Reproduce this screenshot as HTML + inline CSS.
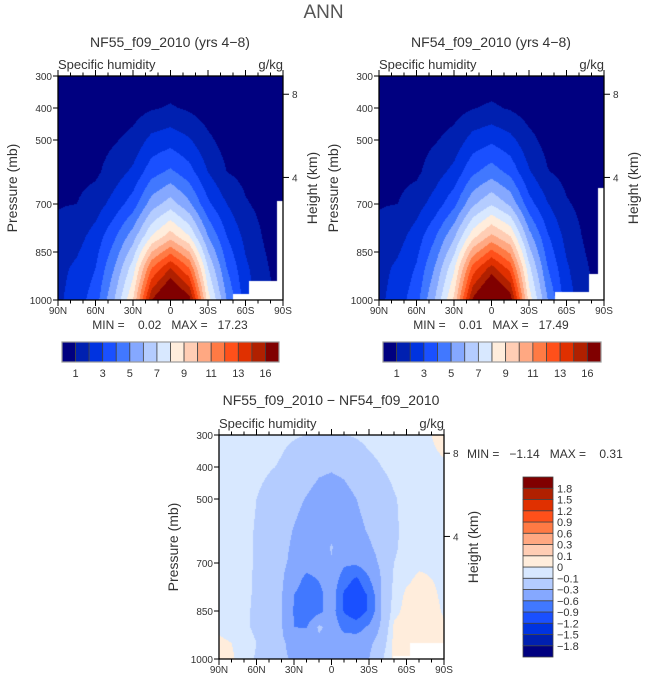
<!DOCTYPE html>
<html><head><meta charset="utf-8">
<style>
body{margin:0;background:#fff;width:647px;height:684px;overflow:hidden;position:relative;font-family:"Liberation Sans",sans-serif;color:#333}
.t{position:absolute;white-space:nowrap}
canvas{position:absolute}
svg{position:absolute;left:0;top:0}
svg text{white-space:pre}
</style></head><body>
<div class="t" style="left:0;width:647px;text-align:center;top:2px;font-size:19px;color:#555">ANN</div>
<svg id="ov" width="647" height="684"></svg>
<script>
const lats=[90,75,60,45,30,15,0,-15,-30,-45,-60,-75,-90];
const pres=[300,400,500,600,700,800,900,1000];
const q55=[
[0.1,0.1,0.15,0.2,0.25,0.35,0.4,0.35,0.25,0.2,0.15,0.1,0.05],
[0.3,0.3,0.35,0.45,0.6,0.9,1.1,0.85,0.5,0.4,0.3,0.2,0.1],
[0.45,0.45,0.6,0.9,1.3,2.3,2.6,2.1,1.2,0.6,0.45,0.3,0.2],
[0.6,0.7,0.8,1.5,2.2,3.6,4.2,3.4,2.0,1.0,0.7,0.4,0.2],
[0.95,1.0,1.5,2.4,3.5,5.5,6.5,5.2,3.2,2.0,1.1,0.7,0.3],
[1.2,1.6,2.4,3.8,5.5,8.0,9.5,8.0,5.0,3.0,1.7,0.9,0.3],
[1.7,2.2,3.0,5.0,7.5,12.0,14.0,12.0,7.0,4.0,2.2,1.2,0.4],
[1.8,2.5,3.5,6.0,9.0,15.0,17.2,15.5,8.5,5.0,2.5,1.5,0.5]];
const q54=[
[0.1,0.1,0.15,0.2,0.25,0.38,0.42,0.37,0.25,0.2,0.15,0.1,0.05],
[0.3,0.3,0.35,0.45,0.62,0.95,1.15,0.9,0.52,0.4,0.3,0.2,0.1],
[0.45,0.45,0.6,0.92,1.35,2.4,2.8,2.3,1.3,0.65,0.45,0.3,0.2],
[0.6,0.7,0.8,1.55,2.3,3.8,4.5,3.7,2.1,1.05,0.7,0.4,0.2],
[0.95,1.0,1.55,2.45,3.7,5.8,6.9,5.8,3.4,2.05,1.1,0.7,0.3],
[1.2,1.6,2.45,3.9,5.8,8.6,10.2,9.0,5.4,3.1,1.65,0.85,0.3],
[1.65,2.2,3.1,5.1,7.8,12.4,14.4,12.6,7.3,4.0,2.15,1.15,0.4],
[1.75,2.5,3.6,6.1,9.2,15.2,17.45,15.7,8.6,5.0,2.45,1.45,0.5]];
const dLats=[90,80,70,60,50,40,30,20,10,0,-10,-20,-30,-40,-50,-60,-70,-80,-90];
const dPres=[300,400,500,600,650,700,750,800,850,900,950,1000];
const dq=[
[-0.05,-0.05,-0.05,-0.06,-0.07,-0.08,-0.09,-0.1,-0.12,-0.11,-0.1,-0.09,-0.07,-0.06,-0.05,-0.04,-0.03,0.0,0.05],
[-0.05,-0.05,-0.06,-0.07,-0.09,-0.11,-0.15,-0.2,-0.26,-0.28,-0.25,-0.18,-0.13,-0.1,-0.07,-0.05,-0.04,-0.03,-0.02],
[-0.05,-0.05,-0.06,-0.1,-0.14,-0.2,-0.25,-0.31,-0.38,-0.4,-0.38,-0.3,-0.22,-0.16,-0.11,-0.07,-0.05,-0.04,-0.03],
[-0.05,-0.05,-0.07,-0.11,-0.16,-0.24,-0.31,-0.38,-0.42,-0.4,-0.42,-0.36,-0.28,-0.2,-0.12,-0.07,-0.05,-0.04,-0.03],
[-0.05,-0.05,-0.07,-0.11,-0.17,-0.25,-0.33,-0.42,-0.42,-0.28,-0.45,-0.42,-0.33,-0.22,-0.12,-0.06,-0.04,-0.03,-0.03],
[-0.05,-0.05,-0.07,-0.11,-0.17,-0.26,-0.35,-0.48,-0.45,-0.32,-0.55,-0.55,-0.42,-0.25,-0.1,-0.05,-0.02,-0.02,-0.03],
[-0.05,-0.05,-0.07,-0.12,-0.18,-0.27,-0.45,-0.68,-0.58,-0.4,-0.75,-0.95,-0.62,-0.28,-0.08,-0.02,0.02,0.0,-0.02],
[-0.04,-0.05,-0.07,-0.12,-0.18,-0.28,-0.6,-0.8,-0.7,-0.42,-0.95,-1.15,-0.85,-0.3,-0.06,0.02,0.03,0.02,-0.02],
[-0.03,-0.05,-0.08,-0.12,-0.18,-0.28,-0.62,-0.8,-0.68,-0.45,-0.92,-1.1,-0.85,-0.3,-0.03,0.03,0.04,0.03,-0.01],
[-0.02,-0.04,-0.08,-0.12,-0.18,-0.28,-0.6,-0.62,-0.25,-0.4,-0.7,-0.75,-0.55,-0.25,0.02,0.04,0.05,0.04,0.01],
[0.02,0.0,-0.06,-0.1,-0.15,-0.26,-0.38,-0.4,-0.38,-0.42,-0.42,-0.4,-0.35,-0.18,0.03,0.05,0.05,0.05,0.02],
[0.03,0.02,-0.06,-0.11,-0.2,-0.27,-0.32,-0.35,-0.38,-0.38,-0.36,-0.33,-0.3,-0.12,0.03,0.05,0.05,0.05,0.02]];
const qLevels=[1,2,3,4,5,6,7,8,9,10,11,12,13,14,15];
const qLabels=["1","3","5","7","9","11","13","16"];
const dLevels=[-1.8,-1.5,-1.2,-0.9,-0.6,-0.3,-0.1,0,0.1,0.3,0.6,0.9,1.2,1.5,1.8];
const dLabels=["-1.8","-1.5","-1.2","-0.9","-0.6","-0.3","-0.1","0","0.1","0.3","0.6","0.9","1.2","1.5","1.8"];
const palette=["#000080","#0020b0","#0033e0","#1a50ff","#4178ff","#85a8ff","#b4ccff","#d8e8ff","#ffeddc","#ffcdb4","#ffa882","#ff7a44","#ff501a","#e03000","#b02000","#800000"];
const xTickLabels=["90N","60N","30N","0","30S","60S","90S"];
const pTicks=[300,400,500,700,850,1000];
const hTicks=[8,4];
const hTickP=[357,617];

const ov=document.getElementById('ov');
const NS='http://www.w3.org/2000/svg';
function el(tag,attrs,parent){const e=document.createElementNS(NS,tag);for(const k in attrs)e.setAttribute(k,attrs[k]);(parent||ov).appendChild(e);return e;}
function txt(x,y,s,size,anchor,name,rot){const t=el('text',{x:x,y:y,'font-size':size,'text-anchor':anchor||'middle','font-family':'Liberation Sans, sans-serif',fill:'#333'});
if(rot)t.setAttribute('transform','rotate(-90 '+x+' '+y+')');t.textContent=s;

return t;}
function bilin(LA,PR,grid,lat,p){
 let i=0;while(i<LA.length-2&&lat<LA[i+1])i++;
 let j=0;while(j<PR.length-2&&p>PR[j+1])j++;
 const fx=(LA[i]-lat)/(LA[i]-LA[i+1]),fy=(p-PR[j])/(PR[j+1]-PR[j]);
 const a=grid[j][i],b=grid[j][i+1],c=grid[j+1][i],d=grid[j+1][i+1];
 return a*(1-fx)*(1-fy)+b*fx*(1-fy)+c*(1-fx)*fy+d*fx*fy;}
function bin(v,levels){let k=0;while(k<levels.length&&v>=levels[k])k++;return k;}
function masked(lat,p,m){for(const r of m){if(lat<r[0]&&p>r[1]&&p<(r[2]||2000))return true;}return false;}
function panel(x0,y0,LA,PR,grid,levels,mask,name){
 const W=225,H=224;
 const cv=document.createElement('canvas');cv.width=W;cv.height=H;cv.style.left=x0+'px';cv.style.top=y0+'px';
 
 
 document.body.insertBefore(cv,ov);
 const ctx=cv.getContext('2d');
 for(let py=0;py<H;py++)for(let px=0;px<W;px++){
  const lat=90-(px+0.5)/W*180,p=300+(py+0.5)/H*700;
  if(masked(lat,p,mask)){ctx.fillStyle='#fff';}else ctx.fillStyle=palette[bin(bilin(LA,PR,grid,lat,p),levels)];
  ctx.fillRect(px,py,1,1);}
 const xs=lat=>x0+(90-lat)/180*W, ys=p=>y0+(p-300)/700*H;
 const g=el('g',{});
 el('rect',{x:x0,y:y0,width:W,height:H,fill:'none',stroke:'#000','stroke-width':1.3},g);
 for(let l=90;l>=-90;l-=10){const major=l%30===0,len=major?6:3.5;
  el('line',{x1:xs(l),x2:xs(l),y1:y0+H,y2:y0+H+len,stroke:'#000'},g);
  el('line',{x1:xs(l),x2:xs(l),y1:y0,y2:y0-len,stroke:'#000'},g);}
 xTickLabels.forEach((s,i)=>txt(xs(90-30*i),y0+H+14,s,10,'middle',name+'-x-label'));
 pTicks.forEach(p=>{el('line',{x1:x0-5,x2:x0,y1:ys(p),y2:ys(p),stroke:'#000'},g);txt(x0-6,ys(p)+4,String(p),10,'end',name+'-y-label');});
 hTicks.forEach((h,i)=>{el('line',{x1:x0+W,x2:x0+W+6,y1:ys(hTickP[i]),y2:ys(hTickP[i]),stroke:'#000'},g);txt(x0+W+9,ys(hTickP[i])+4,String(h),10,'start',name+'-height-label');});
 txt(x0-41,y0+H/2,'Pressure (mb)',14,'middle',name+'-y-title',true);
 txt(x0+W+34,y0+H/2,'Height (km)',14,'middle',name+'-height-title',true);
 txt(x0,y0-7,'Specific humidity',13,'start',name+'-variable');
 txt(x0+W,y0-7,'g/kg',13,'end',name+'-units');
}
function hbar(x0,y0,W,H,name){const n=palette.length,w=W/n;
 palette.forEach((c,i)=>{const r=el('rect',{x:x0+i*w,y:y0,width:w,height:H,fill:c,stroke:'#444','stroke-width':0.8});});
 el('rect',{x:x0,y:y0,width:W,height:H,fill:'none',stroke:'#999','stroke-width':1.2});
 qLabels.forEach((s,i)=>txt(x0+w*(1+2*i),y0+H+15,s,11,'middle',name+'-label'));}
function vbar(x0,y0,W,H,name){const n=palette.length,h=H/n;
 palette.forEach((c,i)=>{const r=el('rect',{x:x0,y:y0+H-(i+1)*h,width:W,height:h,fill:c,stroke:'#444','stroke-width':0.8});});
 dLabels.forEach((s,i)=>txt(x0+W+4,y0+H-(i+1)*h+4,s.replace('-','\u2212'),11,'start',name+'-label'));}

const m55=[[-50,980],[-63,942],[-85,690,960]];
const m54=[[-51,976],[-78,920],[-85,650,960]];
const mD=[[-49,990],[-63,950]];
panel(58,76,lats,pres,q55,qLevels,m55,'nf55');
panel(379,76,lats,pres,q54,qLevels,m54,'nf54');
panel(219,435,dLats,dPres,dq,dLevels,mD,'diff');
txt(170,47,'NF55_f09_2010 (yrs 4\u22128)',14,'middle','nf55-title');
txt(491,47,'NF54_f09_2010 (yrs 4\u22128)',14,'middle','nf54-title');
txt(331,405,'NF55_f09_2010 \u2212 NF54_f09_2010',14,'middle','diff-title');
txt(170,329,'MIN =    0.02   MAX =   17.23',12,'middle','nf55-minmax');
txt(491,329,'MIN =    0.01   MAX =   17.49',12,'middle','nf54-minmax');
txt(467,458,'MIN =   \u22121.14   MAX =    0.31',12,'start','diff-minmax');
hbar(62,342,217,20,'nf55-colorbar');
hbar(383,342,218,20,'nf54-colorbar');
vbar(523,477,30,180,'diff-colorbar');
</script>
</body></html>
